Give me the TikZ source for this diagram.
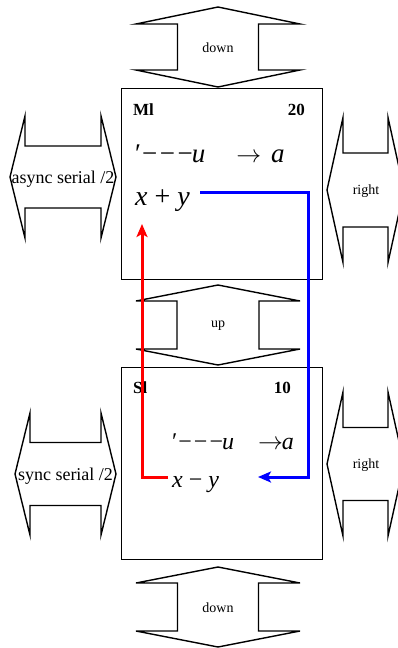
\documentclass[tikz,border=0pt]{standalone}
\usepackage{fontspec}
\setmainfont{Liberation Serif}
\usetikzlibrary{arrows.meta}
\tikzset{
  dblarrow/.style={draw=black, line width=1.4pt, line join=miter, fill=white},
  boxstyle/.style={draw=black, line width=1pt, inner sep=0, fill=none},
  lbl/.style={inner sep=0, font=\fontsize{14}{14}\selectfont},
  biglbl/.style={inner sep=0, font=\fontsize{18}{18}\selectfont},
  boxname/.style={inner sep=0, font=\bfseries\fontsize{17}{17}\selectfont},
  boxnum/.style={inner sep=0, font=\bfseries\fontsize{17}{17}\selectfont},
  formtop/.style={inner sep=0, anchor=base west, font=\fontsize{27}{27}\selectfont},
  formbot/.style={inner sep=0, anchor=base west, font=\fontsize{24}{24}\selectfont},
  flowb/.style={draw={rgb,255:red,0;green,0;blue,255}, line width=3pt, -{Stealth[length=13pt,width=11pt,inset=3pt]}},
  flowr/.style={draw={rgb,255:red,255;green,0;blue,0}, line width=3pt, -{Stealth[length=13pt,width=11pt,inset=3pt]}}
}
% vertical double arrow: cx cy halflength headhalfwidth shafthalfwidth headlength
\newcommand{\vdarrow}[6]{%
  \draw[dblarrow] ({#1},{#2-#3}) -- ({#1+#4},{#2-#3+#6}) -- ({#1+#5},{#2-#3+#6})
    -- ({#1+#5},{#2+#3-#6}) -- ({#1+#4},{#2+#3-#6}) -- ({#1},{#2+#3})
    -- ({#1-#4},{#2+#3-#6}) -- ({#1-#5},{#2+#3-#6}) -- ({#1-#5},{#2-#3+#6})
    -- ({#1-#4},{#2-#3+#6}) -- cycle;}
% horizontal double arrow
\newcommand{\hdarrow}[6]{%
  \draw[dblarrow] ({#1-#3},{#2}) -- ({#1-#3+#6},{#2-#4}) -- ({#1-#3+#6},{#2-#5})
    -- ({#1+#3-#6},{#2-#5}) -- ({#1+#3-#6},{#2-#4}) -- ({#1+#3},{#2})
    -- ({#1+#3-#6},{#2+#4}) -- ({#1+#3-#6},{#2+#5}) -- ({#1-#3+#6},{#2+#5})
    -- ({#1-#3+#6},{#2+#4}) -- cycle;}
\begin{document}
\begin{tikzpicture}[x=1pt, y=-1pt]
\useasboundingbox (0,0) rectangle (398,648);
% boxes
\node[boxstyle, minimum width=201pt, minimum height=191pt] (ml) at (221.5,183.5) {};
\node[boxstyle, minimum width=201pt, minimum height=192pt] (sl) at (221.5,463) {};
% double arrows
\vdarrow{218}{47}{40}{82}{40.5}{17}
\node[lbl] (downtop) at (218,48) {down};
\vdarrow{218}{325}{40}{82}{41}{16}
\node[lbl] (upmid) at (218,326) {up};
\vdarrow{218}{607}{40}{82}{40.5}{16}
\node[lbl] (downbot) at (218,608) {down};
\hdarrow{63}{177}{53}{61}{31}{15}
\node[biglbl] (async) at (63,179) {async serial /2};
\hdarrow{65.5}{474}{50.5}{61}{31.5}{15}
\node[biglbl] (sync) at (65.5,476) {sync serial /2};
\hdarrow{365.5}{190}{38.5}{72.5}{37}{16}
\node[lbl] (righttop) at (366,191) {right};
\hdarrow{365.5}{464}{38.5}{72}{36.5}{16}
\node[lbl] (rightbot) at (366,465) {right};
% texts in box Ml
\node[boxname, anchor=base west] (mlname) at (133,115) {Ml};
\node[boxnum, anchor=base east] (mlnum) at (305,115) {20};
\node[formtop] (mlf) at (135,162) {′\kern1pt−\kern2.5pt−\kern2.5pt−\kern-1pt\textit{u}\hspace{31pt}$\rightarrow$\hspace{10pt}\textit{a}};
\node[formtop, font=\fontsize{28}{28}\selectfont] (xpy) at (135,205) {\textit{x} + \textit{y}};
% texts in box Sl
\node[boxname, anchor=base west] (slname) at (133,393) {Sl};
\node[boxnum, anchor=base east] (slnum) at (291,393) {10};
\node[formbot] (slf) at (172,449) {′\kern1pt−\kern2pt−\kern2pt−\kern-1pt\textit{u}\hspace{24pt}$\rightarrow$\kern-1pt\textit{a}};
\node[formbot] (xmy) at (172,487) {\textit{x} − \textit{y}};
% connectors
\coordinate (xpyout) at (200,192);
\coordinate (bcorner) at (308,477);
\coordinate (xmyin) at (258,477);
\coordinate (xmyout) at (168,477);
\coordinate (xpyin) at (142,224);
\draw[flowb] (xpyout) -| (bcorner) -- (xmyin);
\draw[flowr] (xmyout) -| (xpyin);
\end{tikzpicture}
\end{document}
